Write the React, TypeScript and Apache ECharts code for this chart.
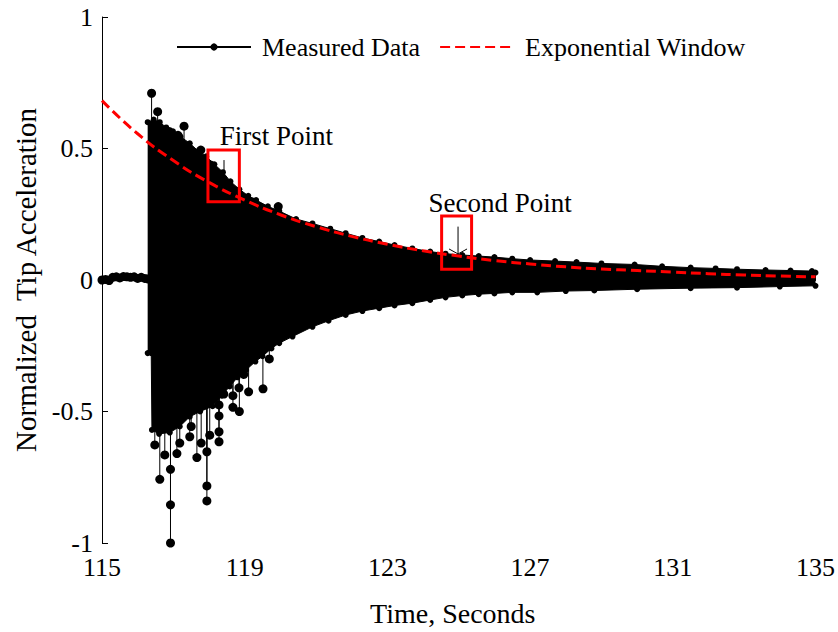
import React, { useEffect, useRef } from "react";
import * as echarts from "echarts";

// ---- data ----
const xTicks = [115, 119, 123, 127, 131, 135];
const yTicks = [-1, -0.5, 0, 0.5, 1];

// quiet record before the impact
const preTimes = [115.0, 115.1, 115.2, 115.3, 115.4, 115.5, 115.6, 115.7, 115.8, 115.9, 116.0, 116.1, 116.2, 116.28];
const preValues = [0.0, 0.002, -0.002, 0.01, 0.012, 0.008, 0.013, 0.012, 0.01, 0.012, 0.006, 0.01, 0.006, 0.004];

// upper envelope of the dense oscillation
const upperTimes = [116.28, 116.45, 116.62, 116.8, 116.99, 117.2, 117.46, 117.7, 117.92, 118.15, 118.39, 118.6, 118.85, 119.1, 119.32, 119.65, 119.97, 120.44, 120.9, 121.4, 121.83, 122.3, 122.77, 123.2, 123.7, 124.2, 124.63, 125.1, 125.56, 126.0, 126.5, 127.0, 127.7, 128.3, 129.0, 129.93, 130.7, 131.5, 132.2, 132.8, 133.6, 134.3, 134.9, 135.0];
const upperValues = [0.6, 0.61, 0.6, 0.58, 0.565, 0.545, 0.52, 0.49, 0.47, 0.44, 0.41, 0.375, 0.345, 0.32, 0.304, 0.28, 0.262, 0.232, 0.215, 0.195, 0.178, 0.16, 0.146, 0.133, 0.12, 0.108, 0.1, 0.095, 0.091, 0.087, 0.081, 0.076, 0.072, 0.068, 0.063, 0.059, 0.052, 0.047, 0.044, 0.041, 0.038, 0.036, 0.034, 0.028];

// lower envelope of the dense oscillation
const lowerTimes = [116.28, 116.38, 116.4, 116.6, 116.9, 117.18, 117.46, 117.75, 118.1, 118.35, 118.58, 118.8, 119.04, 119.3, 119.5, 119.75, 119.97, 120.34, 120.9, 121.35, 121.83, 122.3, 122.77, 123.2, 123.7, 124.2, 124.63, 125.1, 125.56, 126.0, 126.5, 127.2, 128.0, 128.8, 130.0, 131.5, 132.8, 134.0, 135.0];
const lowerValues = [-0.278, -0.278, -0.57, -0.585, -0.58, -0.557, -0.52, -0.5, -0.48, -0.44, -0.405, -0.37, -0.342, -0.31, -0.29, -0.26, -0.24, -0.215, -0.178, -0.155, -0.133, -0.118, -0.107, -0.097, -0.088, -0.076, -0.066, -0.059, -0.054, -0.051, -0.047, -0.047, -0.042, -0.04, -0.035, -0.031, -0.029, -0.025, -0.022];

// isolated samples that stick out of the envelope
const spikeTimes = [116.39, 116.56, 116.88, 117.13, 117.3, 117.6, 117.77, 118.05, 118.2, 119.22, 119.94,
  116.48, 116.62, 116.76, 116.92, 116.92, 116.92, 117.1, 117.18, 117.46, 117.5, 117.66, 117.78, 117.94, 117.94, 117.94, 118.02, 118.28, 118.28, 118.28, 118.28, 118.41, 118.67, 118.67, 118.84, 118.85, 118.97, 119.11, 119.51, 119.69];
const spikeValues = [0.71, 0.64, 0.565, 0.55, 0.585, 0.475, 0.494, 0.437, 0.407, 0.297, 0.279,
  -0.627, -0.758, -0.665, -0.72, -0.855, -1.0, -0.66, -0.62, -0.596, -0.557, -0.675, -0.62, -0.653, -0.783, -0.84, -0.59, -0.615, -0.577, -0.517, -0.475, -0.43, -0.44, -0.484, -0.41, -0.5, -0.355, -0.425, -0.41, -0.3];

// exponential window
const windowTimes = [115, 116, 117, 118, 119, 120, 121, 122, 123, 124, 125, 126, 127, 128, 129, 130, 131, 132, 133, 134, 135];
const windowValues = [0.682, 0.556, 0.454, 0.371, 0.304, 0.248, 0.203, 0.166, 0.136, 0.111, 0.091, 0.074, 0.061, 0.05, 0.042, 0.036, 0.03, 0.024, 0.019, 0.015, 0.012];

// annotations: label, box corners, arrow, label anchor (data units)
const noteLabels = ["First Point", "Second Point"];
const noteBoxX0 = [117.97, 124.52];
const noteBoxX1 = [118.85, 125.36];
const noteBoxTop = [0.494, 0.243];
const noteBoxBottom = [0.298, 0.041];
const noteArrowX = [118.42, 124.98];
const noteArrowTop = [0.456, 0.203];
const noteArrowTip = [0.35, 0.099];
const noteLabelX = [119.89, 126.16];
const noteLabelY = [0.548, 0.293];

const FONT = "'Liberation Serif', 'Times New Roman', serif";

export default function App() {
  const ref = useRef<HTMLDivElement>(null);

  useEffect(() => {
    if (!ref.current) return;
    const chart = echarts.init(ref.current, undefined, { renderer: "svg" });

    const pre = preTimes.map((t, i) => [t, preValues[i]]);
    const upper = upperTimes.map((t, i) => [t, upperValues[i]]);
    const lower = lowerTimes.map((t, i) => [t, lowerValues[i]]);
    const spikes = spikeTimes.map((t, i) => [t, spikeValues[i]]);
    const win = windowTimes.map((t, i) => [t, windowValues[i]]);
    const notes = noteLabels.map((_, i) => [
      noteBoxX0[i], noteBoxTop[i], noteBoxX1[i], noteBoxBottom[i],
      noteArrowX[i], noteArrowTop[i], noteArrowTip[i], noteLabelX[i], noteLabelY[i], i,
    ]);

    chart.setOption({
      animation: false,
      backgroundColor: "#fff",
      grid: { left: 102, right: 20, top: 17, bottom: 88 },
      legend: {
        data: [
          { name: "Measured Data" },
          { name: "Exponential Window", itemStyle: { color: "rgba(0,0,0,0)", borderWidth: 0 } },
        ],
        left: 176,
        top: 34,
        padding: 0,
        itemWidth: 74,
        itemHeight: 9,
        itemGap: 19,
        textStyle: { fontFamily: FONT, fontSize: 26, color: "#000", padding: [0, 0, 0, 6] },
      },
      xAxis: {
        type: "value",
        min: xTicks[0],
        max: xTicks[xTicks.length - 1],
        interval: xTicks[1] - xTicks[0],
        name: "Time, Seconds",
        nameLocation: "middle",
        nameGap: 56,
        nameTextStyle: { fontFamily: FONT, fontSize: 28, color: "#000", padding: [0, 12, 0, 0] },
        axisLine: { lineStyle: { color: "#000", width: 1 } },
        axisTick: { inside: true, length: 6, lineStyle: { color: "#000" } },
        axisLabel: { fontFamily: FONT, fontSize: 26, color: "#000", margin: 13, lineHeight: 22 },
        splitLine: { show: false },
      },
      yAxis: {
        type: "value",
        min: yTicks[0],
        max: yTicks[yTicks.length - 1],
        interval: yTicks[1] - yTicks[0],
        name: "Normalized  Tip Acceleration",
        nameLocation: "middle",
        nameGap: 58,
        nameTextStyle: { fontFamily: FONT, fontSize: 29, color: "#000" },
        axisLine: { show: true, lineStyle: { color: "#000", width: 1 } },
        axisTick: { show: true, inside: true, length: 6, lineStyle: { color: "#000" } },
        axisLabel: { fontFamily: FONT, fontSize: 26, color: "#000", margin: 9, lineHeight: 20 },
        splitLine: { show: false },
      },
      series: [
        {
          name: "envUpper",
          type: "line",
          data: upper,
          z: 2,
          symbol: "circle",
          symbolSize: 6,
          showSymbol: true,
          itemStyle: { color: "#000" },
          lineStyle: { color: "#000", width: 1 },
          areaStyle: { color: "#000", opacity: 1 },
          silent: true,
        },
        {
          name: "envLower",
          type: "line",
          data: lower,
          z: 2,
          symbol: "circle",
          symbolSize: 6,
          showSymbol: true,
          itemStyle: { color: "#000" },
          lineStyle: { color: "#000", width: 1 },
          areaStyle: { color: "#000", opacity: 1 },
          silent: true,
        },
        {
          name: "Measured Data",
          type: "line",
          data: pre,
          z: 3,
          symbol: "circle",
          symbolSize: 9,
          showSymbol: true,
          itemStyle: { color: "#000" },
          lineStyle: { color: "#000", width: 1 },
        },
        {
          name: "spikes",
          type: "custom",
          data: spikes,
          z: 3,
          encode: { x: 0, y: 1 },
          renderItem: (params: any, api: any) => {
            const tip = api.coord([api.value(0), api.value(1)]);
            const base = api.coord([api.value(0), 0]);
            return {
              type: "group",
              children: [
                { type: "line", shape: { x1: base[0], y1: base[1], x2: tip[0], y2: tip[1] }, style: { stroke: "#000", lineWidth: 1 } },
                { type: "circle", shape: { cx: tip[0], cy: tip[1], r: 4.5 }, style: { fill: "#000" } },
              ],
            };
          },
        },
        {
          name: "Exponential Window",
          type: "line",
          data: win,
          z: 5,
          symbol: "none",
          smooth: true,
          itemStyle: { color: "#ff0000" },
          lineStyle: { color: "#ff0000", width: 3, type: [10, 5] },
        },
        {
          name: "notes",
          type: "custom",
          data: notes,
          z: 6,
          encode: { x: [0, 2], y: [1, 3] },
          renderItem: (params: any, api: any) => {
            const b0 = api.coord([api.value(0), api.value(1)]);
            const b1 = api.coord([api.value(2), api.value(3)]);
            const a0 = api.coord([api.value(4), api.value(5)]);
            const a1 = api.coord([api.value(4), api.value(6)]);
            const lp = api.coord([api.value(7), api.value(8)]);
            const label = noteLabels[api.value(9)];
            return {
              type: "group",
              children: [
                {
                  type: "rect",
                  shape: { x: b0[0], y: b0[1], width: b1[0] - b0[0], height: b1[1] - b0[1] },
                  style: { fill: "none", stroke: "#ff0000", lineWidth: 3 },
                },
                { type: "line", shape: { x1: a0[0], y1: a0[1], x2: a1[0], y2: a1[1] }, style: { stroke: "#000", lineWidth: 1 } },
                { type: "line", shape: { x1: a1[0] - 9, y1: a1[1] - 5, x2: a1[0], y2: a1[1] }, style: { stroke: "#000", lineWidth: 1 } },
                { type: "line", shape: { x1: a1[0] + 9, y1: a1[1] - 5, x2: a1[0], y2: a1[1] }, style: { stroke: "#000", lineWidth: 1 } },
                {
                  type: "text",
                  x: lp[0],
                  y: lp[1],
                  style: { text: label, fontFamily: FONT, fontSize: 27, fill: "#000", align: "center", verticalAlign: "middle" },
                },
              ],
            };
          },
        },
      ],
    });

    return () => chart.dispose();
  }, []);

  return <div ref={ref} style={{ position: "fixed", left: 0, top: 0, width: 838, height: 632 }} />;
}
